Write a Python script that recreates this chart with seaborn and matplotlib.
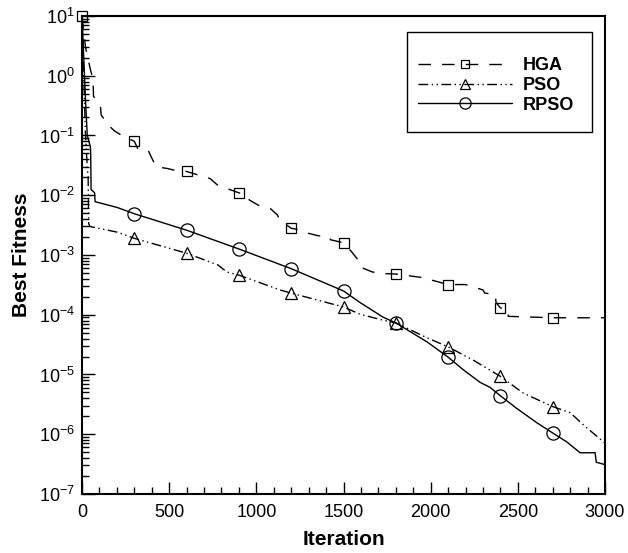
import numpy as np
import pandas as pd
import matplotlib
matplotlib.use("Agg")
import matplotlib.pyplot as plt
import seaborn as sns
from matplotlib.patches import Rectangle
from matplotlib.lines import Line2D
from matplotlib.ticker import LogLocator, MultipleLocator, NullFormatter

# ---------------- data ----------------
hga_iter = [0, 20, 50, 63, 66, 105, 110, 150, 185, 240, 300, 320, 380, 400, 425, 490, 535,
            600, 640, 735, 775, 830, 880, 900, 950, 960, 1020, 1080, 1120, 1135, 1200,
            1260, 1300, 1355, 1420, 1425, 1500, 1550, 1595, 1600, 1665, 1720, 1800, 1950,
            2100, 2200, 2300, 2310, 2370, 2375, 2400, 2440, 2445, 2700, 3000]
hga_val = [10, 3.0, 1.2, 0.9, 0.45, 0.33, 0.22, 0.15, 0.12, 0.095, 0.08, 0.06, 0.056, 0.042,
           0.030, 0.028, 0.026, 0.025, 0.023, 0.019, 0.015, 0.013, 0.0115, 0.011, 0.0096,
           0.0083, 0.0066, 0.0060, 0.0047, 0.0038, 0.0028, 0.0026, 0.0023, 0.0021, 0.0020,
           0.0018, 0.0016, 0.0011, 0.00075, 0.00062, 0.00052, 0.00049, 0.00048, 0.00042,
           0.00032, 0.00032, 0.00026, 0.00023, 0.00022, 0.00016, 0.00013, 0.000125,
           0.000094, 0.000089, 0.000089]

pso_iter = [0, 10, 20, 30, 35, 38, 45, 205, 300, 600, 780, 830, 900, 1136, 1200, 1500,
            1595, 1727, 1800, 1980, 2100, 2250, 2400, 2530, 2700, 2800, 2880, 3000]
pso_val = [10, 1.0, 0.1, 0.03, 0.02, 0.0034, 0.0030, 0.0024, 0.0019, 0.00107, 0.00068,
           0.00052, 0.00046, 0.00026, 0.00023, 0.000135, 0.000102, 0.000081, 0.000073,
           0.000041, 0.000029, 0.000017, 0.0000093, 0.0000049, 0.0000029, 0.0000023,
           0.0000014, 0.00000071]

rpso_iter = [0, 10, 20, 30, 48, 50, 52, 72, 75, 205, 300, 600, 900, 1200, 1500, 1595,
             1727, 1800, 1980, 2100, 2187, 2283, 2340, 2400, 2494, 2610, 2700, 2782,
             2857, 2943, 2950, 3000]
rpso_val = [10, 2.0, 0.4, 0.1, 0.065, 0.045, 0.0125, 0.011, 0.0078, 0.0062, 0.0049,
            0.0026, 0.00126, 0.00059, 0.00025, 0.00016, 0.000091, 0.000073, 0.000035,
            0.0000195, 0.000012, 0.0000074, 0.0000061, 0.0000044, 0.0000027, 0.00000155,
            0.00000105, 0.00000074, 0.00000049, 0.00000049, 0.00000034, 0.00000031]

series_names = ["HGA", "PSO", "RPSO"]
x_ticks = [0, 500, 1000, 1500, 2000, 2500, 3000]

# ---------------- style ----------------
sns.set_theme(style="ticks")
plt.rcParams['font.family'] = ['Liberation Sans', 'DejaVu Sans']
plt.rcParams['axes.edgecolor'] = 'black'
plt.rcParams['text.color'] = 'black'
plt.rcParams['xtick.color'] = 'black'
plt.rcParams['ytick.color'] = 'black'
plt.rcParams['axes.labelcolor'] = 'black'

fig = plt.figure(figsize=(6.28, 5.53), dpi=100)
ax = fig.add_axes([0.1306, 0.1067, 0.8328, 0.8644])

styles = {
    "HGA": dict(linestyle=(0, (9, 8)), marker="s", markersize=7.5),
    "PSO": dict(linestyle=(0, (7, 2.5, 1, 2.5, 1, 2.5)), marker="^", markersize=9),
    "RPSO": dict(linestyle="-", marker="o", markersize=9.5),
}
data = {"HGA": (hga_iter, hga_val), "PSO": (pso_iter, pso_val), "RPSO": (rpso_iter, rpso_val)}

for name in series_names:
    it, val = data[name]
    df = pd.DataFrame({"Iteration": it, "Best Fitness": val})
    idx = [i for i, x in enumerate(it)
           if x % 300 == 0 and x <= 2700 and (x > 0 or name == "HGA")]
    st = styles[name]
    sns.lineplot(data=df, x="Iteration", y="Best Fitness", ax=ax, estimator=None,
                 sort=False, color="black", linewidth=1.0, linestyle=st["linestyle"],
                 marker=st["marker"], markersize=st["markersize"], markevery=idx,
                 markerfacecolor="none", markeredgecolor="black", markeredgewidth=0.9,
                 clip_on=False)

ax.set_yscale("log")
ax.set_xlim(0, 3000)
ax.set_ylim(1e-7, 10)
ax.set_xticks(x_ticks)
ax.xaxis.set_minor_locator(MultipleLocator(100))
ax.yaxis.set_major_locator(LogLocator(base=10, numticks=20))
ax.yaxis.set_minor_locator(LogLocator(base=10, subs=np.arange(2, 10), numticks=20))
ax.yaxis.set_minor_formatter(NullFormatter())

ax.tick_params(which="both", direction="in", top=False, right=False, width=1.0,
               labelsize=13)
ax.tick_params(which="major", length=9)
ax.tick_params(which="minor", length=5)
ax.tick_params(axis="y", which="both", pad=5)
ax.tick_params(axis="x", which="both", pad=7)

for sp in ax.spines.values():
    sp.set_visible(True)
    sp.set_linewidth(1.5)
    sp.set_color("black")

ax.set_xlabel("Iteration", fontsize=15, fontweight="bold", labelpad=7)
ax.set_ylabel("Best Fitness", fontsize=15, fontweight="bold", labelpad=6)

# legend box
bx0, by0, bw, bh = 0.621, 0.757, 0.354, 0.2095
ax.add_patch(Rectangle((bx0, by0), bw, bh, transform=ax.transAxes, fill=False,
                       edgecolor="black", linewidth=1.0, zorder=5))
handles = []
for name in series_names:
    st = styles[name]
    handles.append(Line2D([], [], color="black", linewidth=1.0, linestyle=st["linestyle"],
                          marker=st["marker"], markersize=st["markersize"] * 0.85,
                          markerfacecolor="none", markeredgecolor="black",
                          markeredgewidth=0.9))
leg = ax.legend(handles, series_names, loc="center",
                bbox_to_anchor=(bx0 + bw / 2 - 0.006, by0 + bh / 2 - 0.007), frameon=False,
                handlelength=5.2, handletextpad=0.6, labelspacing=0.15, numpoints=1,
                prop={"weight": "bold", "size": 13})

fig.savefig("out.png", dpi=100)
